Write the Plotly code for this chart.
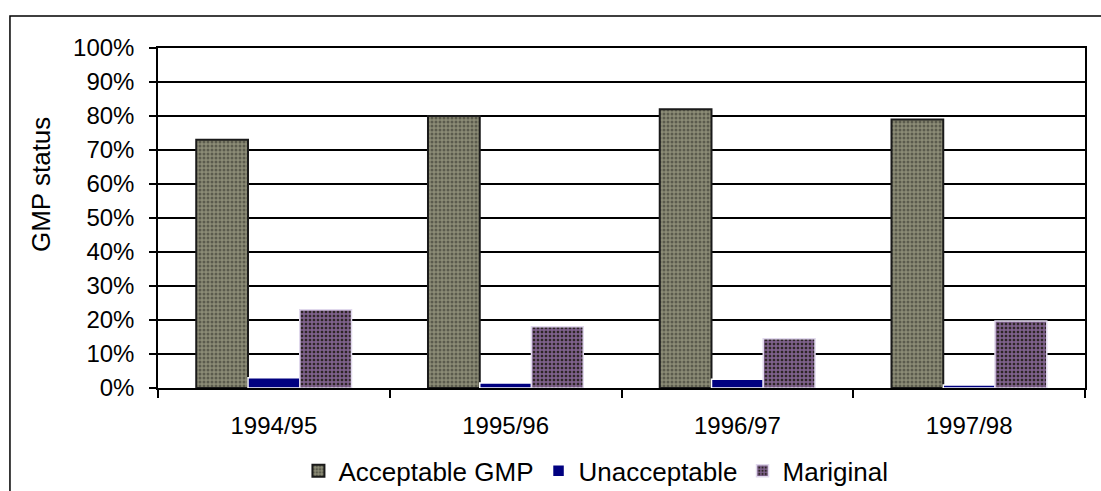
import plotly.graph_objects as go

years = ["1994/95", "1995/96", "1996/97", "1997/98"]
acceptable = [73, 80, 82, 79]
unacceptable = [3, 1.5, 2.6, 0.9]
marginal = [23, 18, 14.5, 19.7]
y_ticks = [0, 10, 20, 30, 40, 50, 60, 70, 80, 90, 100]
y_tick_labels = [f"{v}%" for v in y_ticks]

FONT = "Liberation Sans, Arial, sans-serif"

fig = go.Figure()
fig.add_trace(go.Bar(
    name="Acceptable GMP", x=years, y=acceptable,
    marker=dict(color="#858570",
                line=dict(color="#1a1a1a", width=2),
                pattern=dict(shape=".", bgcolor="#8c8c76", fgcolor="#2a2a24",
                             size=4, solidity=0.45, fillmode="overlay")),
))
fig.add_trace(go.Bar(
    name="Unacceptable", x=years, y=unacceptable,
    marker=dict(color="#000080", line=dict(color="white", width=1.5)),
))
fig.add_trace(go.Bar(
    name="Mariginal", x=years, y=marginal,
    marker=dict(color="#2e2626",
                line=dict(color="#e0d8ec", width=1.5),
                pattern=dict(shape="+", bgcolor="#2e2626", fgcolor="#d9a3ff",
                             size=4, solidity=0.6, fillmode="overlay")),
))

fig.update_layout(
    width=1101, height=491,
    margin=dict(l=158, r=16, t=48, b=103),
    paper_bgcolor="white", plot_bgcolor="white",
    barmode="group", bargap=0.33, bargroupgap=0,
    font=dict(family=FONT, color="black", size=24),
    showlegend=True,
    legend=dict(orientation="h", x=0.1515, xanchor="left",
                yref="container", y=0.041, yanchor="middle",
                font=dict(size=26, family=FONT), itemwidth=30,
                tracegroupgap=0, bgcolor="rgba(0,0,0,0)"),
)
fig.update_xaxes(
    type="category", tickson="boundaries", ticks="outside", ticklen=8,
    tickcolor="black", tickwidth=1.5, automargin=False,
    showline=True, linecolor="black", linewidth=1.5, mirror=True,
    showgrid=False, tickfont=dict(size=24), ticklabelstandoff=15,
)
fig.update_yaxes(
    range=[0, 100], tickvals=y_ticks, ticktext=y_tick_labels,
    ticks="outside", ticklen=7, tickcolor="black", tickwidth=1.5, automargin=False,
    showline=True, linecolor="black", linewidth=1.5, mirror=True,
    showgrid=True, gridcolor="black", gridwidth=1.5, zeroline=False,
    tickfont=dict(size=24), ticklabelstandoff=10,
)
fig.add_annotation(
    text="GMP status", xref="paper", yref="paper",
    x=-0.1262, y=0.597, textangle=-90, showarrow=False,
    font=dict(size=26, family=FONT), xanchor="center", yanchor="middle",
)
fig.add_shape(
    type="rect", xref="paper", yref="paper",
    x0=-0.1597, y0=-0.32, x1=1.03, y1=1.0941,
    line=dict(color="black", width=1.5), fillcolor="rgba(0,0,0,0)", layer="below",
)
fig.write_html("out.html", config={"displayModeBar": False},
               post_script="document.body.style.margin='0';document.body.style.overflow='hidden';")
